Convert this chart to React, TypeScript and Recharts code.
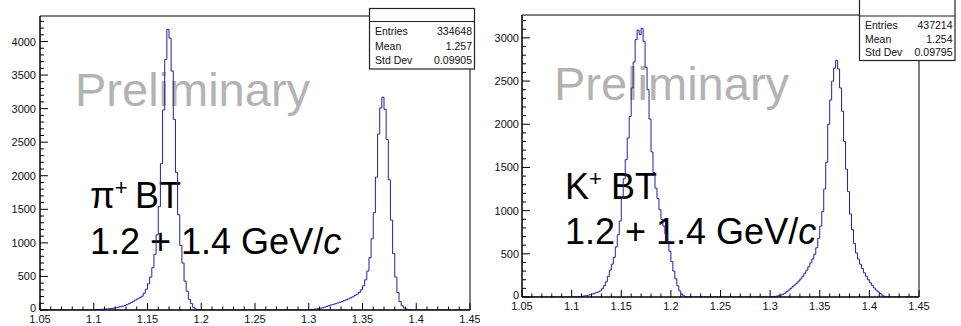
import { LineChart, Line, XAxis, YAxis, ReferenceArea } from 'recharts'

const BIN_WIDTH = 0.002
const X_MIN = 1.05
const X_MAX = 1.45

// bin contents (0.002 wide bins) starting at the given low edge
const piPeak1Start = 1.1
const piPeak1 = [
  4, 6, 8, 10, 12, 15, 17, 20, 24, 28,
  33, 42, 50, 58, 68, 80, 95, 112, 130, 148,
  165, 182, 205, 250, 310, 390, 490, 630, 830, 1120,
  1540, 2180, 2980, 3730, 4180, 4050, 3560, 2840, 2050, 1420,
  960, 700, 430, 280, 160, 95, 40, 14, 4, 1,
]
const piPeak2Start = 1.3
const piPeak2 = [
  5, 8, 11, 15, 20, 26, 33, 42, 54, 65,
  75, 84, 94, 104, 115, 126, 138, 151, 165, 180,
  196, 214, 235, 262, 300, 360, 450, 580, 780, 1060,
  1450, 1980, 2620, 3010, 3170, 2990, 2540, 1940, 1340, 840,
  490, 260, 125, 62, 30, 14, 6, 2, 1, 0,
]
const kPeak1Start = 1.1
const kPeak1 = [
  2, 3, 4, 5, 7, 9, 12, 16, 21, 27,
  34, 42, 50, 58, 70, 95, 130, 175, 240, 310,
  380, 460, 580, 720, 880, 1140, 1370, 1590, 1840, 2090,
  2420, 2720, 2980, 3090, 3040, 3110, 2960, 2660, 2400, 2060,
  1680, 1440, 1260, 1140, 1010, 900, 820, 730, 640, 530,
  410, 300, 210, 130, 70, 35, 15, 5, 1,
]
const kPeak2Start = 1.3
const kPeak2 = [
  2, 4, 7, 10, 15, 22, 32, 45, 62, 80,
  100, 120, 140, 160, 185, 210, 240, 275, 310, 350,
  395, 440, 495, 570, 680, 820, 990, 1250, 1560, 2000,
  2280, 2500, 2650, 2740, 2640, 2420, 2150, 1800, 1480, 1220,
  960, 780, 620, 510, 440, 380, 330, 280, 240, 200,
  165, 135, 105, 80, 60, 40, 22, 8, 2,
]

const xLabels = [1.05, 1.1, 1.15, 1.2, 1.25, 1.3, 1.35, 1.4, 1.45]
const piYLabels = [0, 500, 1000, 1500, 2000, 2500, 3000, 3500, 4000]
const kYLabels = [0, 500, 1000, 1500, 2000, 2500, 3000]
const piYMax = 4380
const kYMax = 3265

const piStats = [
  ['Entries', '334648'],
  ['Mean', '1.257'],
  ['Std Dev', '0.09905'],
]
const kStats = [
  ['Entries', '437214'],
  ['Mean', '1.254'],
  ['Std Dev', '0.09795'],
]

const FONT = '"Liberation Sans", Arial, Helvetica, sans-serif'
const HIST_COLOR = '#2020a6'

function buildHistogram(pieces: [number, number[]][]) {
  const nBins = Math.round((X_MAX - X_MIN) / BIN_WIDTH)
  const counts: number[] = new Array(nBins).fill(0)
  for (const [start, values] of pieces) {
    const first = Math.round((start - X_MIN) / BIN_WIDTH)
    values.forEach((v, i) => {
      counts[first + i] = v
    })
  }
  const rows = counts.map((c, i) => ({ x: +(X_MIN + i * BIN_WIDTH).toFixed(3), count: c }))
  rows.push({ x: X_MAX, count: counts[nBins - 1] })
  return rows
}

// minor ticks every 0.01 / every 100 counts
function minorTicks(from: number, to: number, step: number) {
  const out: number[] = []
  for (let i = 0; from + i * step <= to + 1e-9; i++) out.push(+(from + i * step).toFixed(3))
  return out
}

const xTicks = minorTicks(1.05, 1.45, 0.01)

function XTick(props: any) {
  const { x, y, payload } = props
  const major = xLabels.some((l) => Math.abs(l - payload.value) < 1e-6)
  return (
    <g>
      <line x1={x} x2={x} y1={y} y2={y - (major ? 7 : 3.5)} stroke="#000" strokeWidth={1} />
      {major && (
        <text x={x} y={y + 12.5} textAnchor="middle" fontSize={11} fontFamily={FONT} fill="#111">
          {String(payload.value)}
        </text>
      )}
    </g>
  )
}

function YTick(props: any) {
  const { x, y, payload, labels, gap } = props
  const major = labels.includes(payload.value)
  return (
    <g>
      <line x1={x} x2={x + (major ? 8 : 4)} y1={y} y2={y} stroke="#000" strokeWidth={1} />
      {major && (
        <text
          x={x - gap}
          y={payload.value === 0 ? y + 2 : y + 4}
          textAnchor="end"
          fontSize={11}
          fontFamily={FONT}
          fill="#111"
        >
          {String(payload.value)}
        </text>
      )}
    </g>
  )
}

interface HistPanelProps {
  data: { x: number; count: number }[]
  yMax: number
  yLabels: number[]
  width: number
  height: number
  margin: { top: number; right: number; bottom: number; left: number }
  yAxisWidth: number
  labelGap: number
}

function HistPanel({ data, yMax, yLabels, width, height, margin, yAxisWidth, labelGap }: HistPanelProps) {
  const yTicks = minorTicks(0, Math.floor(yMax / 100) * 100, 100)
  return (
    <LineChart width={width} height={height} data={data} margin={margin}>
      <ReferenceArea
        x1={X_MIN}
        x2={X_MAX}
        y1={0}
        y2={yMax}
        fill="none"
        stroke="#000"
        strokeWidth={1}
        ifOverflow="visible"
      />
      <Line
        type="stepAfter"
        dataKey="count"
        stroke={HIST_COLOR}
        strokeWidth={1}
        dot={false}
        activeDot={false}
        isAnimationActive={false}
      />
      {/* axes drawn last so the frame sits over empty bins */}
      <XAxis
        dataKey="x"
        type="number"
        domain={[X_MIN, X_MAX]}
        ticks={xTicks}
        interval={0}
        height={16}
        tickSize={0}
        tickMargin={0}
        axisLine={{ stroke: '#000', strokeWidth: 1.2 }}
        tickLine={false}
        allowDataOverflow
        tick={(p: any) => <XTick {...p} />}
      />
      <YAxis
        type="number"
        domain={[0, yMax]}
        ticks={yTicks}
        interval={0}
        width={yAxisWidth}
        tickSize={0}
        tickMargin={0}
        axisLine={{ stroke: '#000', strokeWidth: 1 }}
        tickLine={false}
        allowDataOverflow
        tick={(p: any) => <YTick {...p} labels={yLabels} gap={labelGap} />}
      />
    </LineChart>
  )
}

function StatsBox({ x, y, w, h, header, rows, rowY }: {
  x: number
  y: number
  w: number
  h: number
  header: number
  rows: string[][]
  rowY: number[]
}) {
  return (
    <g fontFamily={FONT} fontSize={10.5} fill="#111">
      <rect x={x} y={y} width={w} height={h} fill="#fff" stroke="#222" strokeWidth={1.2} />
      <line x1={x} x2={x + w} y1={header} y2={header} stroke="#222" strokeWidth={1} />
      {rows.map(([k, v], i) => (
        <g key={k}>
          <text x={x + 5.5} y={rowY[i]}>{k}</text>
          <text x={x + w - 2.5} y={rowY[i]} textAnchor="end">{v}</text>
        </g>
      ))}
    </g>
  )
}

export default function App() {
  const piData = buildHistogram([
    [piPeak1Start, piPeak1],
    [piPeak2Start, piPeak2],
  ])
  const kData = buildHistogram([
    [kPeak1Start, kPeak1],
    [kPeak2Start, kPeak2],
  ])

  return (
    <div style={{ position: 'absolute', left: 0, top: 0, width: 961, height: 326, background: '#fff', overflow: 'hidden' }}>
      {/* annotations sit underneath the histograms */}
      <svg width={961} height={326} style={{ position: 'absolute', left: 0, top: 0 }}>
        <g fontFamily={FONT}>
          <text x={75} y={106} fontSize={47} fill="#b3b3b3">Preliminary</text>
          <text x={90} y={208} fontSize={36} fill="#000">
            π<tspan fontSize={22} dy={-13}>+</tspan>
            <tspan x={135} dy={13}>BT</tspan>
          </text>
          <text x={90} y={254} fontSize={36} fill="#000">
            1.2 + 1.4 GeV/<tspan fontStyle="italic">c</tspan>
          </text>

          <text x={554} y={100} fontSize={47} fill="#b3b3b3">Preliminary</text>
          <text x={565} y={199} fontSize={36} fill="#000">
            K<tspan fontSize={22} dy={-13}>+</tspan>
            <tspan x={611} dy={13}>BT</tspan>
          </text>
          <text x={565} y={244} fontSize={36} fill="#000">
            1.2 + 1.4 GeV/<tspan fontStyle="italic">c</tspan>
          </text>
        </g>
      </svg>

      <div style={{ position: 'absolute', left: 0, top: 0 }}>
        <HistPanel
          data={piData}
          yMax={piYMax}
          yLabels={piYLabels}
          width={480}
          height={326}
          margin={{ top: 16, right: 10, bottom: 0, left: 0 }}
          yAxisWidth={40}
          labelGap={4}
        />
      </div>
      <div style={{ position: 'absolute', left: 480, top: 0 }}>
        <HistPanel
          data={kData}
          yMax={kYMax}
          yLabels={kYLabels}
          width={481}
          height={326}
          margin={{ top: 15, right: 42, bottom: 13, left: 0 }}
          yAxisWidth={42}
          labelGap={3}
        />
      </div>

      <svg width={961} height={326} style={{ position: 'absolute', left: 0, top: 0, pointerEvents: 'none' }}>
        <StatsBox x={369.5} y={8.5} w={105} h={60.5} header={21.5} rows={piStats} rowY={[34.5, 49.5, 64]} />
        <StatsBox x={859.5} y={-3} w={95.5} h={63.5} header={16} rows={kStats} rowY={[28.5, 42.7, 56]} />
      </svg>
    </div>
  )
}
